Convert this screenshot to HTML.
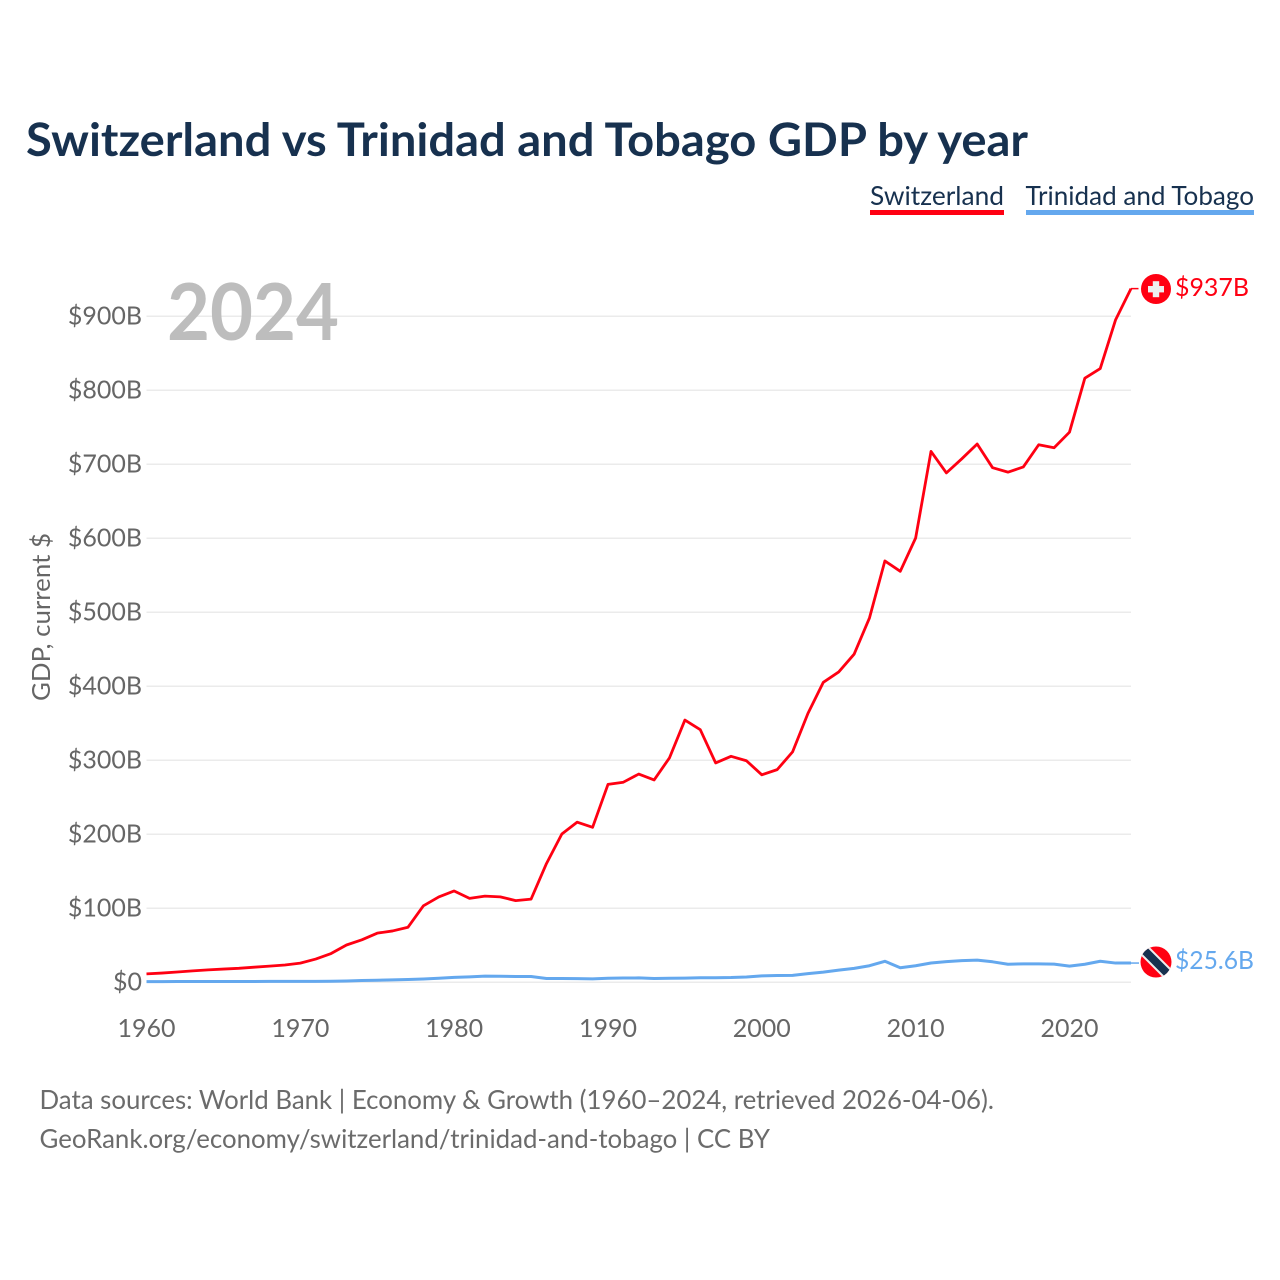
<!DOCTYPE html>
<html lang="en">
<head>
<meta charset="utf-8">
<title>Switzerland vs Trinidad and Tobago GDP by year</title>
<style>
html,body{margin:0;padding:0;background:#fff;}
svg{display:block;}
text{font-family:"Lato","Carlito","Liberation Sans",sans-serif;}
</style>
</head>
<body>
<svg id="chart" xmlns="http://www.w3.org/2000/svg" width="1280" height="1280" viewBox="0 0 1280 1280">
  <rect x="0" y="0" width="1280" height="1280" fill="#ffffff"/>
  <text x="26" y="156" font-size="46" font-weight="700" fill="#17314f" textLength="1002" lengthAdjust="spacingAndGlyphs">Switzerland vs Trinidad and Tobago GDP by year</text>

  <g>
    <text x="870" y="205" font-size="26" fill="#17314f" textLength="134" lengthAdjust="spacingAndGlyphs">Switzerland</text>
    <rect x="870" y="210" width="134" height="5" fill="#ff0012"/>
  </g>
  <g>
    <text x="1025.5" y="205" font-size="26" fill="#17314f" textLength="228.5" lengthAdjust="spacingAndGlyphs">Trinidad and Tobago</text>
    <rect x="1026" y="210" width="228" height="5" fill="#64a8ee"/>
  </g>

  <g id="grid"></g>
  <g id="yticks"></g>
  <g id="xticks"></g>

  <text x="167" y="340" font-size="79" font-weight="700" fill="#bdbdbd" textLength="172" lengthAdjust="spacingAndGlyphs">2024</text>
  <text transform="translate(50 701) rotate(-90)" x="0" y="0" font-size="25" fill="#666666" textLength="168" lengthAdjust="spacingAndGlyphs">GDP, current $</text>

  <g id="series"></g>

  <g>
    <circle cx="1156" cy="289" r="15" fill="#ff0012"/>
    <rect x="1152.8" y="281.2" width="6.4" height="16" fill="#eeeeee"/>
    <rect x="1148" y="286" width="16" height="6.4" fill="#eeeeee"/>
  </g>
  <text x="1175" y="296" font-size="25.5" fill="#ff0012" textLength="74" lengthAdjust="spacingAndGlyphs">$937B</text>

  <g>
    <clipPath id="tt-clip"><circle cx="1156" cy="962" r="15.5"/></clipPath>
    <g clip-path="url(#tt-clip)">
      <rect x="1140" y="946" width="32" height="32" fill="#ff0012"/>
      <line x1="1140" y1="946" x2="1172" y2="978" stroke="#eeeeee" stroke-width="12"/>
      <line x1="1140" y1="946" x2="1172" y2="978" stroke="#17314f" stroke-width="8"/>
    </g>
  </g>
  <text x="1175" y="969" font-size="25.5" fill="#64a8ee" textLength="79" lengthAdjust="spacingAndGlyphs">$25.6B</text>

  <text x="39.5" y="1109" font-size="26" fill="#6b6b6b" textLength="954.5" lengthAdjust="spacingAndGlyphs">Data sources: World Bank | Economy &amp; Growth (1960–2024, retrieved 2026-04-06).</text>
  <a><text x="39.5" y="1148" font-size="26" fill="#6b6b6b" textLength="730.5" lengthAdjust="spacingAndGlyphs">GeoRank.org/economy/switzerland/trinidad-and-tobago | CC BY</text></a>
</svg>
<script>
const years = [1960,1961,1962,1963,1964,1965,1966,1967,1968,1969,1970,1971,1972,1973,1974,1975,1976,1977,1978,1979,1980,1981,1982,1983,1984,1985,1986,1987,1988,1989,1990,1991,1992,1993,1994,1995,1996,1997,1998,1999,2000,2001,2002,2003,2004,2005,2006,2007,2008,2009,2010,2011,2012,2013,2014,2015,2016,2017,2018,2019,2020,2021,2022,2023,2024];
const switzerlandValues = [11,12.1,13.5,15,16.4,17.5,18.5,20,21.5,23,25.5,31,38.5,50,57,66,69,74,103,115,123,113,116,115,110,112,160,200,216,209,267,270,281,273,303,354,341,296,305,299,280,287,311,363,405,419,443,492,569,555,600,717,688,707,727,695,689,696,726,722,743,816,829,895,937];
const trinidadValues = [0.5,0.55,0.6,0.65,0.7,0.7,0.7,0.75,0.8,0.8,0.8,0.9,1.1,1.4,2.1,2.4,2.9,3.4,4,5,6.2,7,8,7.8,7.5,7.4,4.8,4.8,4.5,4.3,5,5.4,5.5,4.7,5,5.3,5.8,5.7,6,6.8,8.2,8.8,9,11.3,13.3,16,18.4,22,28,19.3,22,25.7,27.5,28.9,29.6,27.3,24,24.5,24.5,24.1,21.5,24,28,25.6,25.6];
const yTickValues = [0,100,200,300,400,500,600,700,800,900];
const yTickLabels = ["$0","$100B","$200B","$300B","$400B","$500B","$600B","$700B","$800B","$900B"];
const xTickValues = [1960,1970,1980,1990,2000,2010,2020];

const NS = 'http://www.w3.org/2000/svg';
const xScale = function (year) { return 146.5 + (year - 1960) * (1131 - 146.5) / 64; };
const yScale = function (value) { return 982 - value * 0.74; };

const gridGroup = document.getElementById('grid');
const yGroup = document.getElementById('yticks');
const xGroup = document.getElementById('xticks');
const seriesGroup = document.getElementById('series');

yTickValues.forEach(function (value, i) {
  const line = document.createElementNS(NS, 'line');
  
  
  line.setAttribute('x1', xScale(1960));
  line.setAttribute('x2', xScale(2024));
  line.setAttribute('y1', yScale(value) + 0.25);
  line.setAttribute('y2', yScale(value) + 0.25);
  line.setAttribute('stroke', '#ebebeb');
  line.setAttribute('stroke-width', '1.5');
  gridGroup.appendChild(line);

  const label = document.createElementNS(NS, 'text');
  
  
  label.setAttribute('x', 142);
  label.setAttribute('y', yScale(value) + 8.5);
  label.setAttribute('text-anchor', 'end');
  label.setAttribute('font-size', '25');
  label.setAttribute('fill', '#666666');
  label.textContent = yTickLabels[i];
  yGroup.appendChild(label);
});

xTickValues.forEach(function (year) {
  const label = document.createElementNS(NS, 'text');
  
  
  label.setAttribute('x', xScale(year));
  label.setAttribute('y', 1037);
  label.setAttribute('text-anchor', 'middle');
  label.setAttribute('font-size', '25');
  label.setAttribute('fill', '#666666');
  label.textContent = String(year);
  xGroup.appendChild(label);
});

function buildPath(values) {
  let d = '';
  values.forEach(function (value, i) {
    d += (i === 0 ? 'M' : 'L') + xScale(years[i]).toFixed(2) + ' ' + yScale(value).toFixed(2) + ' ';
  });
  return d;
}

const trinidadLine = document.createElementNS(NS, 'path');


trinidadLine.setAttribute('d', buildPath(trinidadValues));
trinidadLine.setAttribute('fill', 'none');
trinidadLine.setAttribute('stroke', '#64a8ee');
trinidadLine.setAttribute('stroke-width', '3');
trinidadLine.setAttribute('stroke-linejoin', 'round');
seriesGroup.appendChild(trinidadLine);

const switzerlandLine = document.createElementNS(NS, 'path');


switzerlandLine.setAttribute('d', buildPath(switzerlandValues));
switzerlandLine.setAttribute('fill', 'none');
switzerlandLine.setAttribute('stroke', '#ff0012');
switzerlandLine.setAttribute('stroke-width', '2.8');
switzerlandLine.setAttribute('stroke-linejoin', 'round');
seriesGroup.appendChild(switzerlandLine);

const lastIndex = years.length - 1;

const switzerlandConnector = document.createElementNS(NS, 'line');


switzerlandConnector.setAttribute('x1', xScale(years[lastIndex]));
switzerlandConnector.setAttribute('x2', xScale(years[lastIndex]) + 7.5);
switzerlandConnector.setAttribute('y1', yScale(switzerlandValues[lastIndex]));
switzerlandConnector.setAttribute('y2', yScale(switzerlandValues[lastIndex]));
switzerlandConnector.setAttribute('stroke', '#ff0012');
switzerlandConnector.setAttribute('stroke-width', '1.5');
seriesGroup.appendChild(switzerlandConnector);

const trinidadConnector = document.createElementNS(NS, 'line');


trinidadConnector.setAttribute('x1', xScale(years[lastIndex]));
trinidadConnector.setAttribute('x2', xScale(years[lastIndex]) + 8);
trinidadConnector.setAttribute('y1', yScale(trinidadValues[lastIndex]));
trinidadConnector.setAttribute('y2', yScale(trinidadValues[lastIndex]));
trinidadConnector.setAttribute('stroke', '#64a8ee');
trinidadConnector.setAttribute('stroke-width', '1.5');
seriesGroup.appendChild(trinidadConnector);
</script>
</body>
</html>
